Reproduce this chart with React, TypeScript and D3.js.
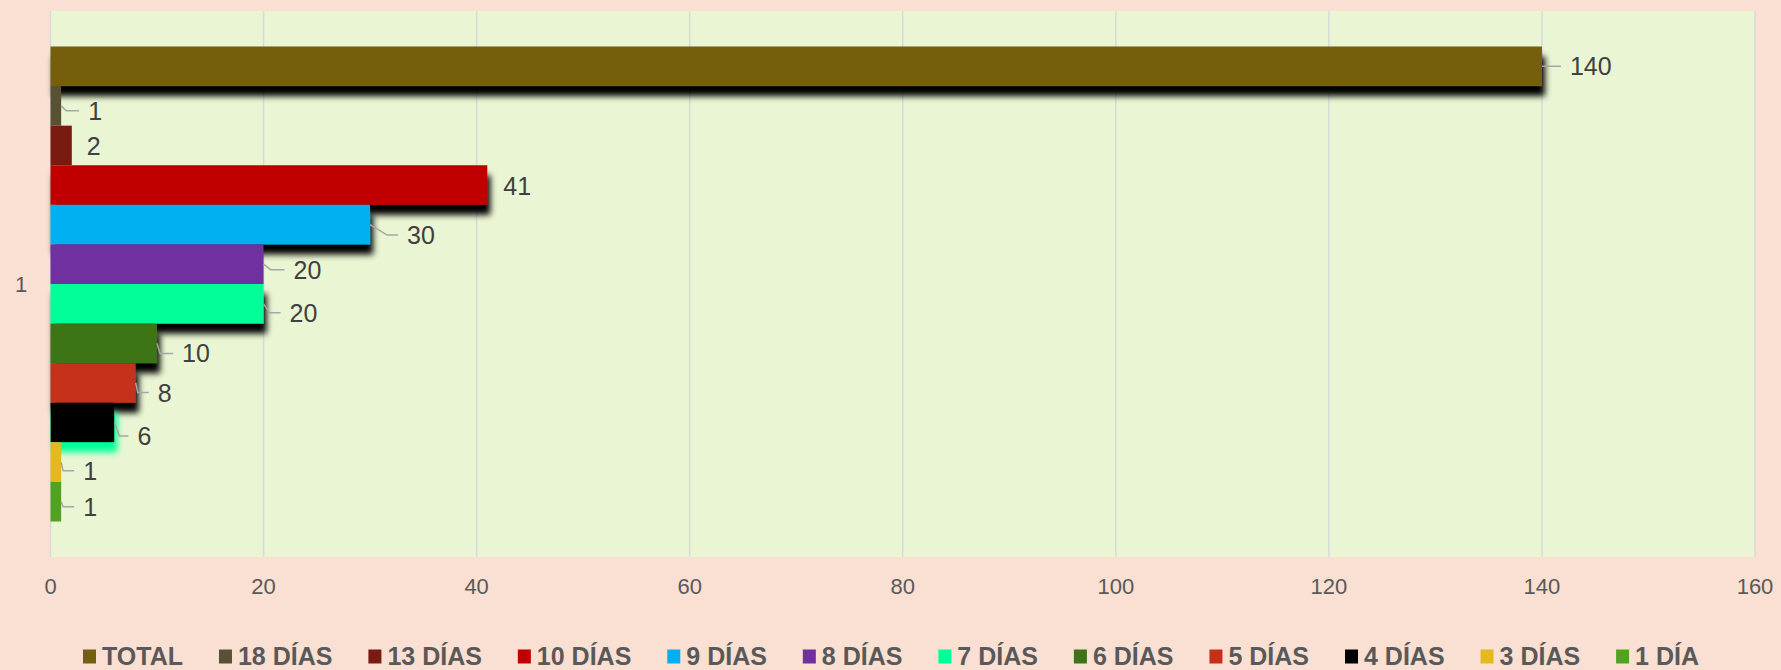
import React, { useEffect, useRef } from "react";
import * as d3 from "d3";

// ---- data ----
const categories = ["1"];
const seriesNames = [
  "TOTAL", "18 DÍAS", "13 DÍAS", "10 DÍAS", "9 DÍAS", "8 DÍAS",
  "7 DÍAS", "6 DÍAS", "5 DÍAS", "4 DÍAS", "3 DÍAS", "1 DÍA",
];
const seriesValues = [140, 1, 2, 41, 30, 20, 20, 10, 8, 6, 1, 1];
const xTicks = [0, 20, 40, 60, 80, 100, 120, 140, 160];

// ---- styles ----
const seriesColors = [
  "#745E0F", "#595133", "#7A1B12", "#C00000", "#00B0F0", "#7030A0",
  "#00FF99", "#3D7418", "#C5301A", "#000000", "#E6B820", "#53A122",
];
const shadowColors: (string | null)[] = [
  "#000000", null, null, "#000000", "#000000", null,
  "#000000", "#000000", "#000000", "#00FF99", null, null,
];
// data-label layout (Excel manual label placement)
const labelDx = [28, 27, 15, 16, 37, 30, 26, 25, 22, 23, 22, 22];
const labelDy = [0, 5, 1, 0.5, 10.5, 5.5, 9, 10, 9.6, 13.5, 8.5, 5];
const labelKnee = [0, 5, 0, 0, 17, 7, 6, 3, 2, 5, 2, 2];
const labelLeader = [true, true, false, false, true, true, true, true, true, true, true, true];

const W = 1781;
const H = 670;
const plot = { left: 50.5, right: 1755, top: 11, bottom: 557 };
const legendSpan = { left: 83, right: 1699 };

export default function App() {
  const ref = useRef<SVGSVGElement | null>(null);

  useEffect(() => {
    const svg = d3.select(ref.current);
    svg.selectAll("*").remove();

    const x = d3.scaleLinear().domain([0, 160]).range([plot.left, plot.right]);
    const yCat = d3
      .scaleBand<string>()
      .domain(categories)
      .range([plot.top, plot.bottom])
      .paddingInner(0)
      .paddingOuter(0.0747);
    const ySer = d3
      .scaleBand<string>()
      .domain(seriesNames)
      .range([0, yCat.bandwidth()])
      .padding(0);

    // background
    svg.append("rect").attr("x", 0).attr("y", 0).attr("width", W).attr("height", H).attr("fill", "#FAE0D2");
    svg
      .append("rect")
      .attr("x", plot.left)
      .attr("y", plot.top)
      .attr("width", plot.right - plot.left)
      .attr("height", plot.bottom - plot.top)
      .attr("fill", "#EAF5D3");

    // filters
    const defs = svg.append("defs");
    const shadowSet = Array.from(new Set(shadowColors.filter((c) => c))) as string[];
    shadowSet.forEach((c, i) => {
      const f = defs
        .append("filter")
        .attr("id", "sh" + i)
        .attr("filterUnits", "userSpaceOnUse")
        .attr("x", -50)
        .attr("y", -50)
        .attr("width", W + 100)
        .attr("height", H + 100);
      f.append("feDropShadow")
        .attr("dx", 3)
        .attr("dy", 10)
        .attr("stdDeviation", 3.2)
        .attr("flood-color", c)
        .attr("flood-opacity", 1);
    });

    // gridlines
    svg
      .append("g")
      .selectAll("line")
      .data(xTicks)
      .join("line")
      .attr("x1", (d) => x(d))
      .attr("x2", (d) => x(d))
      .attr("y1", plot.top)
      .attr("y2", plot.bottom)
      .attr("stroke", "#D9D9D9")
      .attr("stroke-width", 1.5);

    // bars
    const cat = categories[0];
    const y0 = yCat(cat)!;
    const gBars = svg.append("g");
    seriesNames.forEach((s, i) => {
      const r = gBars
        .append("rect")
        .attr("x", x(0))
        .attr("y", y0 + ySer(s)!)
        .attr("width", x(seriesValues[i]) - x(0))
        .attr("height", ySer.bandwidth())
        .attr("fill", seriesColors[i]);
      const sc = shadowColors[i];
      if (sc) r.attr("filter", `url(#sh${shadowSet.indexOf(sc)})`);
    });

    // data labels
    const gLab = svg.append("g");
    seriesNames.forEach((s, i) => {
      const xe = x(seriesValues[i]);
      const yc = y0 + ySer(s)! + ySer.bandwidth() / 2;
      const tx = xe + labelDx[i];
      const ly = yc + labelDy[i];
      if (labelLeader[i]) {
        gLab
          .append("path")
          .attr("d", `M${xe},${yc} L${xe + labelKnee[i]},${ly} L${tx - 9},${ly}`)
          .attr("fill", "none")
          .attr("stroke", "#A6A6A6")
          .attr("stroke-width", 1.5);
      }
      gLab
        .append("text")
        .attr("x", tx)
        .attr("y", ly + 9)
        .attr("font-family", "'Liberation Sans', Arial, sans-serif")
        .attr("font-size", 25)
        .attr("fill", "#404040")
        .text(String(seriesValues[i]));
    });

    // x axis tick labels
    svg
      .append("g")
      .selectAll("text")
      .data(xTicks)
      .join("text")
      .attr("x", (d) => x(d))
      .attr("y", 594)
      .attr("text-anchor", "middle")
      .attr("font-family", "'Liberation Sans', Arial, sans-serif")
      .attr("font-size", 22)
      .attr("fill", "#595959")
      .text((d) => String(d));

    // category label
    svg
      .append("text")
      .attr("x", 21)
      .attr("y", y0 + yCat.bandwidth() / 2 + 8)
      .attr("text-anchor", "middle")
      .attr("font-family", "'Liberation Sans', Arial, sans-serif")
      .attr("font-size", 22)
      .attr("fill", "#595959")
      .text(cat);

    // legend
    const gLeg = svg.append("g");
    const items = seriesNames.map((s, i) => {
      const g = gLeg.append("g");
      g.append("rect").attr("x", 0).attr("y", 649.5).attr("width", 13).attr("height", 14).attr("fill", seriesColors[i]);
      const t = g
        .append("text")
        .attr("x", 19)
        .attr("y", 664.5)
        .attr("font-family", "'Liberation Sans', Arial, sans-serif")
        .attr("font-weight", "bold")
        .attr("font-size", 25)
        .attr("fill", "#595959")
        .text(s);
      const w = (t.node() as SVGTextElement).getComputedTextLength();
      return { g, w: 19 + w };
    });
    const sumW = d3.sum(items, (d) => d.w);
    const gap = (legendSpan.right - legendSpan.left - sumW) / (items.length - 1);
    let cx = legendSpan.left;
    items.forEach((it) => {
      it.g.attr("transform", `translate(${cx},0)`);
      cx += it.w + gap;
    });
  }, []);

  return (
    <svg
      ref={ref}
      width={W}
      height={H}
      style={{ position: "absolute", left: 0, top: 0, display: "block" }}
    />
  );
}
